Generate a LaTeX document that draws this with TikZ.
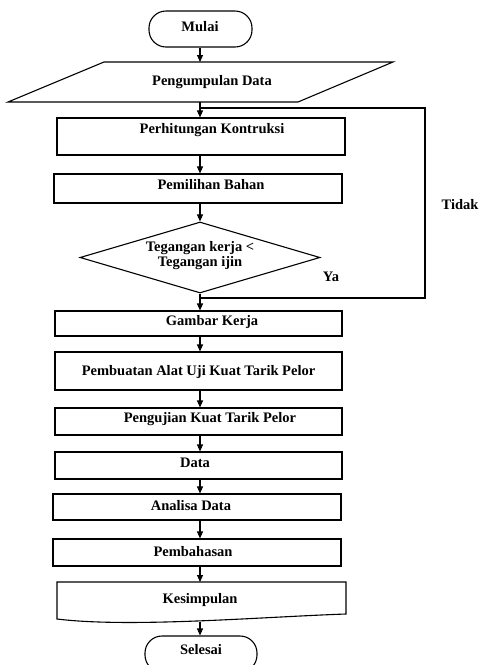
\documentclass[tikz,border=0pt]{standalone}
\usepackage{fontspec}
\setmainfont{Liberation Serif}
\usetikzlibrary{arrows.meta,shapes.geometric}
\begin{document}
\begin{tikzpicture}[x=1pt,y=-1pt, line width=1.1pt,
  box/.style={draw, rectangle, inner sep=0pt},
  lbl/.style={font=\fontsize{14.5}{15}\selectfont\bfseries, inner sep=0pt, align=center},
  arr/.style={-{Triangle[length=7pt,width=6pt]}},
  term/.style={draw, rounded corners=17pt, inner sep=0pt, minimum height=36pt}]
\useasboundingbox (0,0) rectangle (481,665);
\clip (0,0) rectangle (481,665);
\coordinate (ax) at (200,0);
% start
\node[term, minimum width=103pt] (mulai) at (200.5,29) {};
\node[lbl] (tmulai) at (200,27) {Mulai};
% data input
\coordinate (p1) at (104,62);
\coordinate (p2) at (393,62);
\coordinate (p3) at (298,102);
\coordinate (p4) at (8,102);
\coordinate (ptop) at (200,62);
\coordinate (pbot) at (200,102);
\draw (p1) -- (p2) -- (p3) -- (p4) -- cycle;
\node[lbl] (tpeng) at (212,82) {Pengumpulan Data};
% process boxes
\node[box, minimum width=288pt, minimum height=37pt] (b1) at (201,136.5) {};
\node[lbl] (tb1) at (212,130) {Perhitungan Kontruksi};
\node[box, minimum width=288pt, minimum height=29pt] (b2) at (198,188.5) {};
\node[lbl] (tb2) at (211,185) {Pemilihan Bahan};
% decision
\node[draw, diamond, minimum width=240pt, minimum height=71pt, inner sep=0pt] (d) at (200,257.5) {};
\node[lbl] (td) at (200,255.5) {Tegangan kerja <\\Tegangan ijin};
\node[lbl] (ya) at (331,277) {Ya};
\node[lbl] (tidak) at (460,205) {Tidak};
\node[box, minimum width=287pt, minimum height=25pt] (b3) at (198.5,323.5) {};
\node[lbl] (tb3) at (212,322) {Gambar Kerja};
\node[box, minimum width=287pt, minimum height=38pt] (b4) at (198.5,371) {};
\node[lbl] (tb4) at (198.5,372) {Pembuatan Alat Uji Kuat Tarik Pelor};
\node[box, minimum width=287pt, minimum height=27pt] (b5) at (198.5,421.5) {};
\node[lbl] (tb5) at (210,419) {Pengujian Kuat Tarik Pelor};
\node[box, minimum width=287pt, minimum height=27pt] (b6) at (198.5,465.5) {};
\node[lbl] (tb6) at (195,463) {Data};
\node[box, minimum width=288pt, minimum height=26pt] (b7) at (197,507) {};
\node[lbl] (tb7) at (191,506) {Analisa Data};
\node[box, minimum width=288pt, minimum height=27pt] (b8) at (197,552.5) {};
\node[lbl] (tb8) at (193,552) {Pembahasan};
% document shape
\coordinate (k1) at (57,582);
\coordinate (k2) at (346,582);
\coordinate (k3) at (346,614);
\coordinate (k4) at (57,619);
\coordinate (kb) at (200,621.5);
\draw (k1) -- (k2) -- (k3) .. controls (260,617) and (130,628) .. (k4) -- cycle;
\node[lbl] (tk) at (200,600) {Kesimpulan};
% end
\node[term, minimum width=112pt] (selesai) at (201,654) {};
\node[lbl] (tsel) at (201,650) {Selesai};
% connectors
\coordinate (j1) at (200,298);
\coordinate (lr) at (425,298);
\coordinate (ur) at (425,108);
\coordinate (j2) at (200,108);
\draw[arr] (mulai.south -| ax) -- (ptop);
\draw[arr] (pbot) -- (b1.north -| ax);
\draw[arr] (b1.south -| ax) -- (b2.north -| ax);
\draw[arr] (b2.south -| ax) -- (d.north);
\draw (d.south) -- (j1);
\draw[arr] (j1) -- (b3.north -| ax);
\draw (j1) -- (lr) -- (ur) -- (j2);
\draw[arr] (b3.south -| ax) -- (b4.north -| ax);
\draw[arr] (b4.south -| ax) -- (b5.north -| ax);
\draw[arr] (b5.south -| ax) -- (b6.north -| ax);
\draw[arr] (b6.south -| ax) -- (b7.north -| ax);
\draw[arr] (b7.south -| ax) -- (b8.north -| ax);
\draw[arr] (b8.south -| ax) -- (k1 -| ax);
\draw[arr] (kb) -- (kb |- selesai.north);
\end{tikzpicture}
\end{document}
